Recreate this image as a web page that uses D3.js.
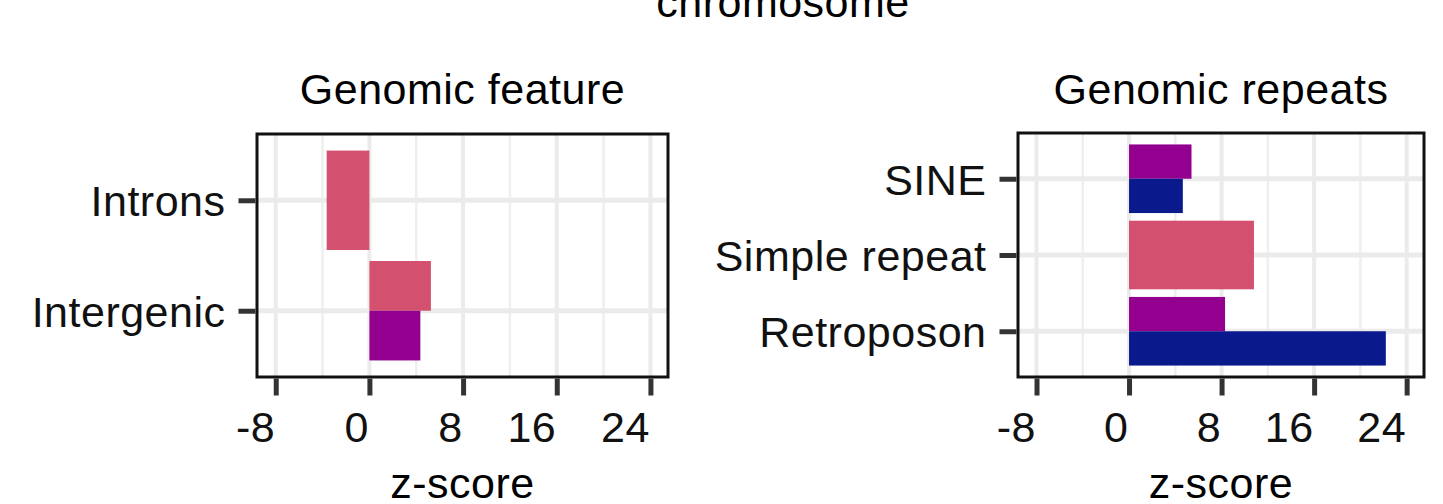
<!DOCTYPE html>
<html>
<head>
<meta charset="utf-8">
<script src="https://cdn.jsdelivr.net/npm/d3@7"></script>
<style>
  html, body { margin: 0; padding: 0; background: #fff; }
  svg { display: block; font-family: "Liberation Sans", Arial, sans-serif; letter-spacing: 0.5px; }
</style>
</head>
<body>
<div id="chart"></div>
<script>
// series colours (pink, purple, blue) in dodge order top -> bottom
var seriesColors = ["#D4506F", "#930090", "#0A1A8C"];

// left panel
var featureCats = ["Introns", "Intergenic"];
var featurePink = [-3.65, 5.25];
var featurePurple = [null, 4.35];
var featureBlue = [null, null];

// right panel
var repeatCats = ["SINE", "Simple repeat", "Retroposon"];
var repeatPink = [null, 10.8];
var repeatPurple = [5.4, null, 8.3];
var repeatBlue = [4.65, null, 22.2];

var xTicks = [-8, 0, 8, 16, 24];
var xMinor = [-4, 4, 12, 20];
var xDomain = [-9.6, 25.5];

var W = 1443, H = 504, FS = 43;

var svg = d3.select("#chart").append("svg")
    .attr("width", W)
    .attr("height", H);

// overall title, cut off at the top of the frame
svg.append("text")
    .attr("x", 783).attr("y", 17)
    .attr("text-anchor", "middle")
    .attr("font-size", FS)
    .text("chromosome");

function drawPanel(opts) {
  var cats = opts.cats;
  var n = cats.length;
  var x = d3.scaleLinear().domain(xDomain).range([opts.left, opts.right]);
  // categories 1..n from top to bottom, ggplot style 0.6 expansion
  var y = d3.scaleLinear().domain([0.4, n + 0.6]).range([opts.top, opts.bottom]);

  var g = svg.append("g");

  // grid
  g.selectAll(".minor").data(xMinor).enter().append("line")
      .attr("x1", function(d) { return x(d); }).attr("x2", function(d) { return x(d); })
      .attr("y1", opts.top).attr("y2", opts.bottom)
      .style("stroke", "#EFEFEF").style("stroke-width", 2.5);
  g.selectAll(".major").data(xTicks).enter().append("line")
      .attr("x1", function(d) { return x(d); }).attr("x2", function(d) { return x(d); })
      .attr("y1", opts.top).attr("y2", opts.bottom)
      .style("stroke", "#EBEBEB").style("stroke-width", 4);
  g.selectAll(".hmajor").data(cats).enter().append("line")
      .attr("x1", opts.left).attr("x2", opts.right)
      .attr("y1", function(d, i) { return y(i + 1); })
      .attr("y2", function(d, i) { return y(i + 1); })
      .style("stroke", "#EBEBEB").style("stroke-width", 5);

  // build dodged bars from the series arrays
  var bars = [];
  cats.forEach(function(c, i) {
    var present = [];
    opts.series.forEach(function(s, k) {
      if (s[i] != null) present.push({ value: s[i], color: seriesColors[k] });
    });
    var step = 0.9 / present.length;
    present.forEach(function(p, j) {
      bars.push({
        value: p.value,
        color: p.color,
        y0: i + 1 - 0.45 + j * step,
        y1: i + 1 - 0.45 + (j + 1) * step
      });
    });
  });

  g.selectAll(".bar").data(bars).enter().append("rect")
      .attr("x", function(d) { return x(Math.min(0, d.value)); })
      .attr("width", function(d) { return Math.abs(x(d.value) - x(0)); })
      .attr("y", function(d) { return y(d.y0); })
      .attr("height", function(d) { return y(d.y1) - y(d.y0); })
      .style("fill", function(d) { return d.color; });

  // panel border
  g.append("rect")
      .attr("x", opts.left).attr("y", opts.top)
      .attr("width", opts.right - opts.left)
      .attr("height", opts.bottom - opts.top)
      .style("fill", "none").style("stroke", "#111").style("stroke-width", 3);

  // x axis (plain hyphen for negatives, labels end at the tick)
  var xAxis = g.append("g")
      .attr("transform", "translate(0," + (opts.bottom + 1.5) + ")")
      .call(d3.axisBottom(x).tickValues(xTicks)
        .tickFormat(function(d) { return String(d); })
        .tickSize(17).tickPadding(0));
  xAxis.select(".domain").remove();
  xAxis.selectAll(".tick line").style("stroke", "#333").style("stroke-width", 5);
  xAxis.selectAll(".tick text")
      .attr("text-anchor", "end")
      .attr("x", -1)
      .attr("y", 63)
      .attr("dy", null)
      .style("font-size", FS + "px")
      .style("fill", "#111");

  // y axis
  var yAxis = g.append("g")
      .attr("transform", "translate(" + (opts.left - 1.5) + ",0)")
      .call(d3.axisLeft(y).tickValues(d3.range(1, n + 1))
        .tickFormat(function(d) { return cats[d - 1]; })
        .tickSize(17).tickPadding(13));
  yAxis.select(".domain").remove();
  yAxis.selectAll(".tick line").style("stroke", "#333").style("stroke-width", 5);
  yAxis.selectAll(".tick text")
      .attr("dy", "0.36em")
      .style("font-size", FS + "px")
      .style("fill", "#111");

  // panel title + axis title
  g.append("text")
      .attr("x", (opts.left + opts.right) / 2).attr("y", 104)
      .attr("text-anchor", "middle")
      .attr("font-size", FS)
      .text(opts.title);
  g.append("text")
      .attr("x", (opts.left + opts.right) / 2).attr("y", 498)
      .attr("text-anchor", "middle")
      .attr("font-size", FS)
      .text("z-score");
}

drawPanel({
  title: "Genomic feature",
  cats: featureCats,
  series: [featurePink, featurePurple, featureBlue],
  left: 257, right: 668, top: 134, bottom: 377
});

drawPanel({
  title: "Genomic repeats",
  cats: repeatCats,
  series: [repeatPink, repeatPurple, repeatBlue],
  left: 1018, right: 1424, top: 133, bottom: 377
});
</script>
</body>
</html>
